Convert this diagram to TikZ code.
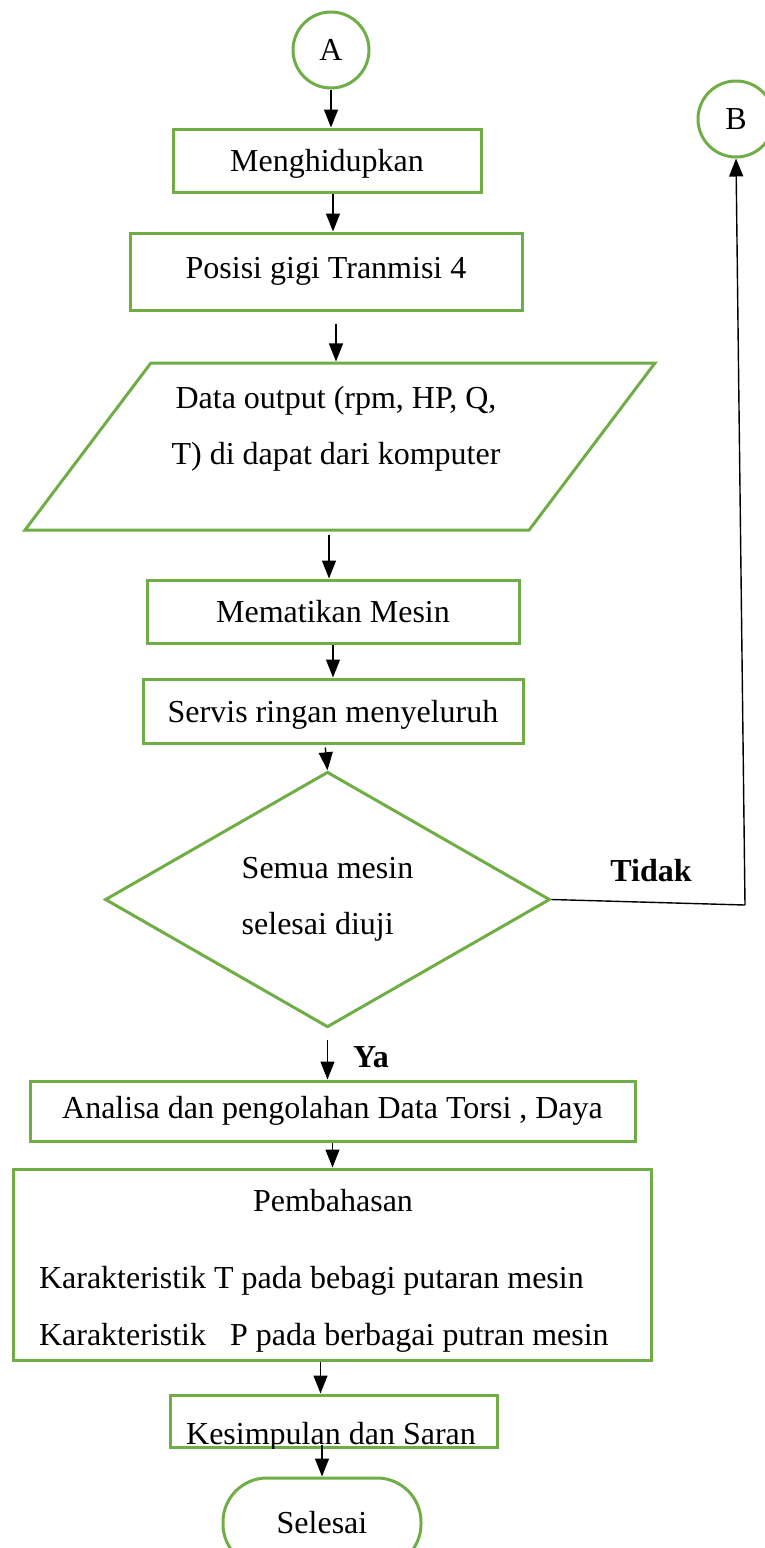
\documentclass[tikz,border=0pt]{standalone}
\usepackage{fontspec}
\setmainfont{Liberation Serif}
\usetikzlibrary{positioning, shapes.geometric}
\usetikzlibrary{arrows.meta}
\definecolor{boxgreen}{RGB}{112,173,71}

\begin{document}
\begin{tikzpicture}[
    x=0.5pt, y=-0.5pt,
    every node/.style={font=\fontsize{16}{28}\selectfont},
    box/.style={rectangle, draw=boxgreen, line width=1.5pt, inner sep=0pt},
    conn/.style={circle, draw=boxgreen, line width=1.5pt, minimum size=38pt, inner sep=0pt},
    io/.style={trapezium, trapezium left angle=53, trapezium right angle=127, trapezium stretches body=true, draw=boxgreen, line width=1.5pt, inner sep=3pt},
    decision/.style={diamond, draw=boxgreen, line width=1.5pt, inner sep=0pt, align=left},
    terminal/.style={rectangle, rounded corners=22pt, draw=boxgreen, line width=1.5pt, inner sep=0pt},
    flow/.style={black, line width=0.7pt, -{Triangle[length=9pt, width=7pt]}},
    link/.style={black, line width=0.7pt},
    answer/.style={font=\fontsize{16}{28}\selectfont\bfseries},
]
    \useasboundingbox (0,0) rectangle (765,1548);

    % --- Connectors ---
    \node[conn] (A) at (331, 50)  {A};
    \node[conn] (B) at (736, 119) {B};

    % --- Test steps ---
    \node[box, minimum width=154pt, minimum height=31.5pt, text depth=0pt] (menghidupkan) at (327, 160.5) {Menghidupkan};
    \node[box, minimum width=196pt, minimum height=38.5pt] (posisi) at (326, 271.5) {Posisi gigi Tranmisi 4};
    \node[io, minimum width=315pt, text height=77.5pt, text depth=0pt] (data) at (340, 446.5) {};
    \node[align=center] (datatext) at (336, 429) {Data output (rpm, HP, Q,\\T) di dapat dari komputer};
    \node[box, minimum width=186pt, minimum height=31.5pt] (mematikan) at (333, 611.5) {Mematikan Mesin};
    \node[box, minimum width=190pt, minimum height=32pt, text depth=0pt] (servis) at (333, 711) {Servis ringan menyeluruh};

    % --- Decision ---
    \node[decision, minimum width=222.5pt, minimum height=126.5pt] (cek) at (327.5, 899.5) {Semua mesin\\selesai diuji};
    \coordinate (turn) at (745, 905);
    \node[answer] (tidak) at (651, 871)  {Tidak};
    \node[answer] (ya)    at (371, 1057) {Ya};

    % --- Analysis ---
    \node[box, minimum width=302.5pt, minimum height=30pt] (analisa) at (332.5, 1111) {Analisa dan pengolahan Data Torsi , Daya};
    \node[box, minimum width=319pt, minimum height=95.5pt] (pembahasan) at (332, 1264.5) {};
    \node[anchor=base] (judul) at (333, 1211) {Pembahasan};
    \node[anchor=base west] (torsi) at (32, 1288) {Karakteristik T pada bebagi putaran mesin};
    \node[anchor=base west] (daya)  at (32, 1345) {Karakteristik\ \ \ P pada berbagai putran mesin};
    \node[box, minimum width=163.5pt, minimum height=26pt] (kesimpulan) at (333.5, 1421) {};
    \begin{scope}
        \clip (kesimpulan.south west) rectangle (kesimpulan.north east);
        \node[anchor=base] (saran) at (331, 1444) {Kesimpulan dan Saran};
    \end{scope}
    \node[terminal, minimum width=99pt, minimum height=45pt] (selesai) at (322, 1523) {Selesai};

    % --- Arrows ---
    \draw[flow] (A.south) -- (A.south |- menghidupkan.north);
    \draw[flow] (mematikan.north |- menghidupkan.south) -- (mematikan.north |- posisi.north);
    \draw[flow, shorten <=6pt] ([xshift=-2pt]data.north |- posisi.south) -- ([xshift=-2pt]data.north);
    \draw[flow, shorten <=1.5pt] ([xshift=-2pt]mematikan.north |- data.south) -- ([xshift=-2pt]mematikan.north);
    \draw[flow] (mematikan.south) -- (servis.north);
    \draw[flow, shorten <=1.5pt] ([xshift=-4pt]servis.south) -- (cek.north);
    \draw[flow, shorten <=5.5pt] (cek.south) -- (cek.south |- analisa.north);
    \draw[flow] (analisa.south) -- (analisa.south |- pembahasan.north);
    \draw[flow] ([xshift=-6.5pt]kesimpulan.north |- pembahasan.south) -- ([xshift=-6.5pt]kesimpulan.north);
    \draw[flow, shorten <=-2pt] (selesai.north |- kesimpulan.south) -- (selesai.north);

    % --- Loop back to B ---
    \draw[link] (cek.east) -- (turn);
    \draw[flow] (turn) -- (B.south);

\end{tikzpicture}
\end{document}
